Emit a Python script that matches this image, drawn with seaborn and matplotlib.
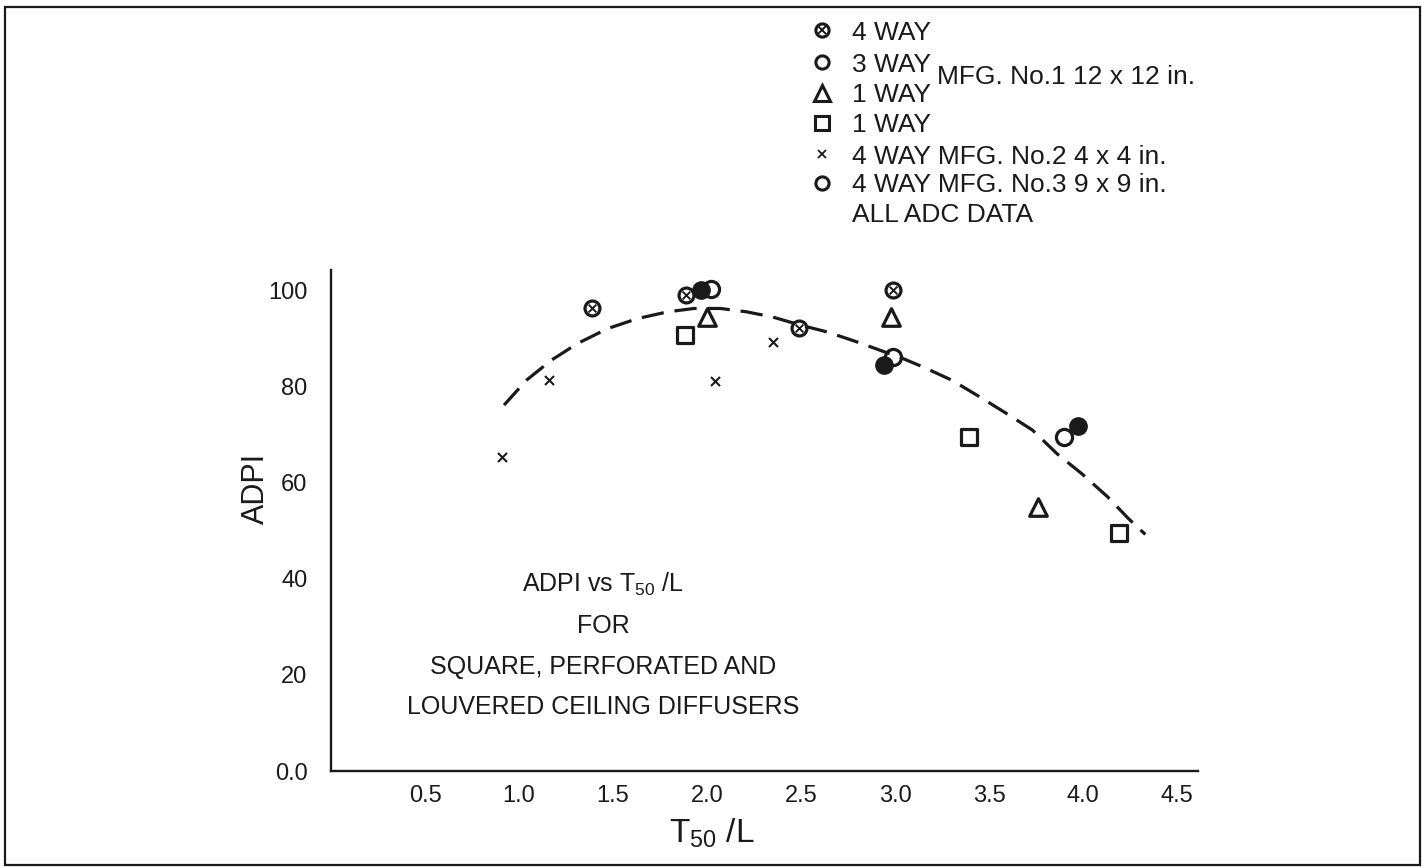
import matplotlib
matplotlib.use("Agg")
import matplotlib.pyplot as plt
import matplotlib.patches as mpatches
from matplotlib.lines import Line2D
import seaborn as sns

# -------------------------------
# data
# -------------------------------
way4_mfg1_x = [1.39, 1.89, 2.49, 2.99]
way4_mfg1_y = [96.3, 99.0, 92.1, 100.0]

way3_mfg1_x = [2.02, 2.99]
way3_mfg1_y = [100.2, 86.1]

way1_tri_x = [2.00, 2.98, 3.76]
way1_tri_y = [94.4, 94.4, 54.9]

way1_sq_x = [1.88, 3.39, 4.19]
way1_sq_y = [90.6, 69.4, 49.5]

mfg2_x = [0.91, 1.16, 2.04, 2.35]
mfg2_y = [65.3, 81.3, 81.1, 89.2]

mfg3_x = [3.90]
mfg3_y = [69.4]

adc_x = [1.97, 2.94, 3.97]
adc_y = [100.0, 84.4, 71.7]

# dashed trend curve
curve_x = [0.92, 1.04, 1.17, 1.31, 1.47, 1.63, 1.79, 1.93, 2.07, 2.21, 2.35,
           2.50, 2.64, 2.80, 2.92, 3.04, 3.15, 3.30, 3.45, 3.59, 3.73, 3.86,
           3.99, 4.13, 4.24, 4.33]
curve_y = [76.1, 81.3, 85.4, 88.9, 92.0, 94.1, 95.5, 96.2, 96.2, 95.5, 94.4,
           92.7, 91.3, 89.2, 87.5, 85.8, 84.0, 81.3, 77.8, 74.4, 70.9, 66.0,
           61.9, 57.0, 52.5, 49.2]

x_ticks = [0.5, 1.0, 1.5, 2.0, 2.5, 3.0, 3.5, 4.0, 4.5]
y_ticks = [0, 20, 40, 60, 80, 100]
y_tick_labels = ["0.0", "20", "40", "60", "80", "100"]

legend_labels = ["4 WAY", "3 WAY", "1 WAY", "1 WAY",
                 "4 WAY MFG. No.2 4 x 4 in.", "4 WAY MFG. No.3 9 x 9 in.",
                 "ALL ADC DATA"]

# -------------------------------
# style
# -------------------------------
sns.set_theme(style="white")
plt.rcParams["font.family"] = ["Liberation Sans", "DejaVu Sans"]
plt.rcParams["mathtext.fontset"] = "custom"
plt.rcParams["mathtext.rm"] = "Liberation Sans"
plt.rcParams["mathtext.it"] = "Liberation Sans:italic"

W, H = 1424, 867
fig = plt.figure(figsize=(W / 100, H / 100), dpi=100)
ax = fig.add_axes([331 / W, 1 - 771 / H, (1198 - 331) / W, (771 - 270) / H])

def fx(px):
    return px / W

def fy(py):
    return 1 - py / H

K = "#1a1a1a"
open_kw = dict(color="white", edgecolor=K, linewidth=2.3, zorder=3, ax=ax)

# -------------------------------
# markers
# -------------------------------
sns.scatterplot(x=way4_mfg1_x, y=way4_mfg1_y, marker="o", s=115, **open_kw)
sns.scatterplot(x=way4_mfg1_x, y=way4_mfg1_y, marker="x", s=30, color=K,
                linewidth=1.4, zorder=4, ax=ax)
sns.scatterplot(x=way3_mfg1_x, y=way3_mfg1_y, marker="o", s=135, **open_kw)
sns.scatterplot(x=mfg3_x, y=mfg3_y, marker="o", s=135, **open_kw)
sns.scatterplot(x=way1_tri_x, y=way1_tri_y, marker="^", s=160, **open_kw)
sns.scatterplot(x=way1_sq_x, y=way1_sq_y, marker="s", s=125, **open_kw)
sns.scatterplot(x=mfg2_x, y=mfg2_y, marker="x", s=42, color=K,
                linewidth=1.5, zorder=3, ax=ax)
sns.scatterplot(x=adc_x, y=adc_y, marker="o", s=155, color=K,
                edgecolor=K, linewidth=1, zorder=3, ax=ax)

sns.lineplot(x=curve_x, y=curve_y, sort=False, color=K, linewidth=2.3,
             linestyle=(0, (7, 3.4)), zorder=5, ax=ax)

# -------------------------------
# axes
# -------------------------------
ax.set_xlim(0, 4.61)
ax.set_ylim(0, 104.2)
ax.set_xticks(x_ticks)
ax.set_xticklabels([f"{v:.1f}" for v in x_ticks])
ax.set_yticks(y_ticks)
ax.set_yticklabels(y_tick_labels)

for side in ["top", "right"]:
    ax.spines[side].set_visible(False)
for side in ["left", "bottom"]:
    ax.spines[side].set_linewidth(1.7)
    ax.spines[side].set_color(K)

ax.tick_params(axis="x", direction="in", length=8.6, width=1.1, colors=K,
               labelsize=17, pad=10)
ax.tick_params(axis="y", direction="in", length=8.6, width=1.1, colors=K,
               labelsize=17, pad=17)

ax.set_xlabel("T$_{\\mathrm{50}}$ /L", fontsize=24, color=K)
ax.xaxis.label.set_verticalalignment("baseline")
ax.xaxis.set_label_coords((712 - 331) / (1198 - 331), -(843 - 771) / (771 - 270))
ax.set_ylabel("ADPI", fontsize=22, color=K)
ax.yaxis.label.set_verticalalignment("center")
ax.yaxis.set_label_coords(-(331 - 256) / (1198 - 331), (771 - 488) / (771 - 270))

# caption inside the plot
caption = ["ADPI vs T$_{\\mathrm{50}}$ /L", "FOR",
           "SQUARE, PERFORATED AND", "LOUVERED CEILING DIFFUSERS"]
caption_base = [592, 633, 674, 714]
for line, by in zip(caption, caption_base):
    fig.text(fx(603), fy(by), line, ha="center", va="baseline",
             fontsize=18, color=K)

# -------------------------------
# legend at the top
# -------------------------------
rows = [30, 62, 93, 123, 154, 183, 212]
leg_markers = [("o", "white", 9.5), ("o", "white", 9.5), ("^", "white", 12),
               ("s", "white", 10), ("x", K, 6), ("o", "white", 9.5), (None, None, 0)]
for (mk, fc, ms), ry, lab in zip(leg_markers, rows, legend_labels):
    if mk is not None:
        fig.add_artist(Line2D([fx(822)], [fy(ry)], transform=fig.transFigure,
                              marker=mk, markersize=ms, markerfacecolor=fc,
                              markeredgecolor=K,
                              markeredgewidth=2.2 if mk != "x" else 1.3,
                              linestyle="none"))
    fig.text(fx(852), fy(ry + 9.5), lab, ha="left", va="baseline",
             fontsize=19, color=K)
fig.add_artist(Line2D([fx(822)], [fy(rows[0])], transform=fig.transFigure,
                      marker="x", markersize=5.5, markeredgecolor=K,
                      markeredgewidth=1.4, linestyle="none"))
fig.text(fx(937), fy(84.5), "MFG. No.1 12 x 12 in.", ha="left", va="baseline",
         fontsize=19, color=K)

# frame around the whole figure
fig.add_artist(mpatches.Rectangle((fx(5), fy(865)), fx(1420) - fx(5), fy(7) - fy(865),
                                  transform=fig.transFigure, fill=False,
                                  edgecolor=K, linewidth=1.6))

fig.savefig("out.png", dpi=100, facecolor="white")
